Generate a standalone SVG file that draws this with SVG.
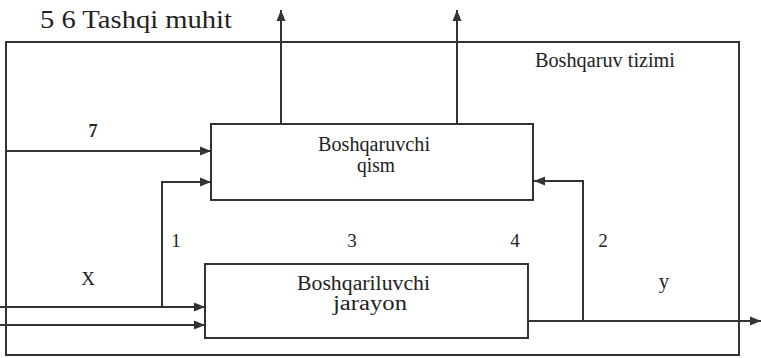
<svg xmlns="http://www.w3.org/2000/svg" width="761" height="358" viewBox="0 0 761 358">
<style>
.box{fill:none;stroke:#333;stroke-width:2}
.ln{fill:none;stroke:#333;stroke-width:2}
.t{font-family:"Liberation Serif","Times New Roman",serif;fill:#222}
</style>
<defs>
<marker id="ah" markerUnits="userSpaceOnUse" markerWidth="12" markerHeight="10" refX="11" refY="5" orient="auto">
<path d="M0 0.5 L11 5 L0 9.5 Z" fill="#333"/>
</marker>
</defs>
<rect width="761" height="358" fill="#fff"/>
<g id="boshqaruv-tizimi">
<rect class="box" x="6" y="42" width="733" height="313"/>
<text class="t" x="535" y="67" font-size="20" textLength="140" lengthAdjust="spacingAndGlyphs">Boshqaruv tizimi</text>
</g>
<g id="tashqi-muhit">
<text class="t" x="40" y="28" font-size="25" textLength="192" lengthAdjust="spacingAndGlyphs">5 6 Tashqi muhit</text>
</g>
<g id="boshqaruvchi-qism">
<rect class="box" x="211" y="124" width="322" height="76"/>
<text class="t" x="318" y="151" font-size="20" textLength="112" lengthAdjust="spacingAndGlyphs">Boshqaruvchi</text>
<text class="t" x="357" y="172" font-size="20" textLength="38" lengthAdjust="spacingAndGlyphs">qism</text>
</g>
<g id="boshqariluvchi-jarayon">
<rect class="box" x="205" y="264" width="323" height="74"/>
<text class="t" x="297" y="290" font-size="20" textLength="133" lengthAdjust="spacingAndGlyphs">Boshqariluvchi</text>
<text class="t" x="333" y="310" font-size="20" textLength="74" lengthAdjust="spacingAndGlyphs">jarayon</text>
</g>
<g id="connectors">
<path class="ln" d="M281 124 V10" marker-end="url(#ah)"/>
<path class="ln" d="M457 124 V10" marker-end="url(#ah)"/>
<path class="ln" d="M6 151 H211" marker-end="url(#ah)"/>
<path class="ln" d="M162 307 V182 H211" marker-end="url(#ah)"/>
<path class="ln" d="M0 307 H205" marker-end="url(#ah)"/>
<path class="ln" d="M0 325 H205" marker-end="url(#ah)"/>
<path class="ln" d="M528 321 H761" marker-end="url(#ah)"/>
<path class="ln" d="M583 321 V181 H534" marker-end="url(#ah)"/>
</g>
<g id="labels">
<text class="t" x="93" y="137" font-size="18" text-anchor="middle" font-weight="bold">7</text>
<text class="t" x="176" y="247" font-size="19" text-anchor="middle">1</text>
<text class="t" x="352" y="247" font-size="19" text-anchor="middle">3</text>
<text class="t" x="515" y="247" font-size="19" text-anchor="middle">4</text>
<text class="t" x="603" y="247" font-size="19" text-anchor="middle">2</text>
<text class="t" x="88" y="285" font-size="19" text-anchor="middle">X</text>
<text class="t" x="664" y="288" font-size="21" text-anchor="middle">y</text>
</g>
</svg>
